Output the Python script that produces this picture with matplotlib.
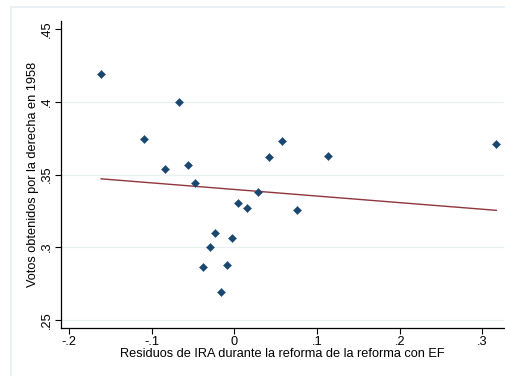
import numpy as np
import matplotlib
matplotlib.use("Agg")
import matplotlib.pyplot as plt
from matplotlib.patches import Rectangle

# Residuals of IRA during the reform (with fixed effects) vs right-wing vote share in 1958
residuos = [-0.1611, -0.0665, -0.1091, -0.0838, -0.0560, -0.0471, 0.0047, 0.0148,
            0.0286, 0.0753, -0.0233, -0.0033, -0.0294, -0.0375, -0.0093, -0.0157,
            0.0576, 0.0414, 0.1127, 0.3166]
votos = [0.4193, 0.3998, 0.3743, 0.3537, 0.3564, 0.3441, 0.3305, 0.3269,
         0.3377, 0.3255, 0.3094, 0.3060, 0.3000, 0.2865, 0.2878, 0.2691,
         0.3730, 0.3622, 0.3628, 0.3709]

# fitted values of the regression line (intercept, slope)
ajuste_constante = 0.3397
ajuste_pendiente = -0.0454

x_ticks = [-0.2, -0.1, 0.0, 0.1, 0.2, 0.3]
x_labels = ["-.2", "-.1", "0", ".1", ".2", ".3"]
y_ticks = [0.25, 0.30, 0.35, 0.40, 0.45]
y_labels = [".25", ".3", ".35", ".4", ".45"]
grid_levels = [0.25, 0.30, 0.35, 0.40]

plt.rcParams["font.family"] = ["Liberation Sans", "DejaVu Sans"]

fig = plt.figure(figsize=(5.06, 3.76), dpi=100)
fig.patch.set_facecolor("white")

# light outer frame of the graph region
fig.patches.append(Rectangle((11 / 506, -0.1), 1.2, 1 - 7 / 376 + 0.1,
                             transform=fig.transFigure, fill=False,
                             edgecolor="#e6edf2", linewidth=1.2, zorder=0))

ax = fig.add_axes([61 / 506, 1 - 328 / 376, (504 - 61) / 506, (328 - 21) / 376])
ax.set_facecolor("white")

x = np.array(residuos)
y = np.array(votos)

for g in grid_levels:
    ax.axhline(g, color="#e8f0f0", linewidth=0.9, zorder=1)

xs = np.array([x.min(), x.max()])
ax.plot(xs, ajuste_constante + ajuste_pendiente * xs, color="#90353b",
        linewidth=1.0, zorder=2)

ax.scatter(x, y, marker="D", s=17, color="#1a476f", edgecolors="#1a476f",
           linewidths=0.3, zorder=3)

ax.set_xlim(-0.2096, 0.326)
ax.set_ylim(0.2443, 0.4557)

ax.set_xticks(x_ticks)
ax.set_xticklabels(x_labels)
ax.set_yticks(y_ticks)
ax.set_yticklabels(y_labels, rotation=90, va="center")

for s in ["top", "right"]:
    ax.spines[s].set_visible(False)
for s in ["left", "bottom"]:
    ax.spines[s].set_color("black")
    ax.spines[s].set_linewidth(0.9)

ax.tick_params(axis="both", direction="out", length=4, width=0.8,
               labelsize=9.2, colors="black", pad=2)

ax.set_xlabel("Residuos de IRA durante la reforma de la reforma con EF",
              fontsize=9.2, labelpad=0)
ax.set_ylabel("Votos obtenidos por la derecha en 1958", fontsize=9.2, labelpad=1)

fig.savefig("out.png", dpi=100)
